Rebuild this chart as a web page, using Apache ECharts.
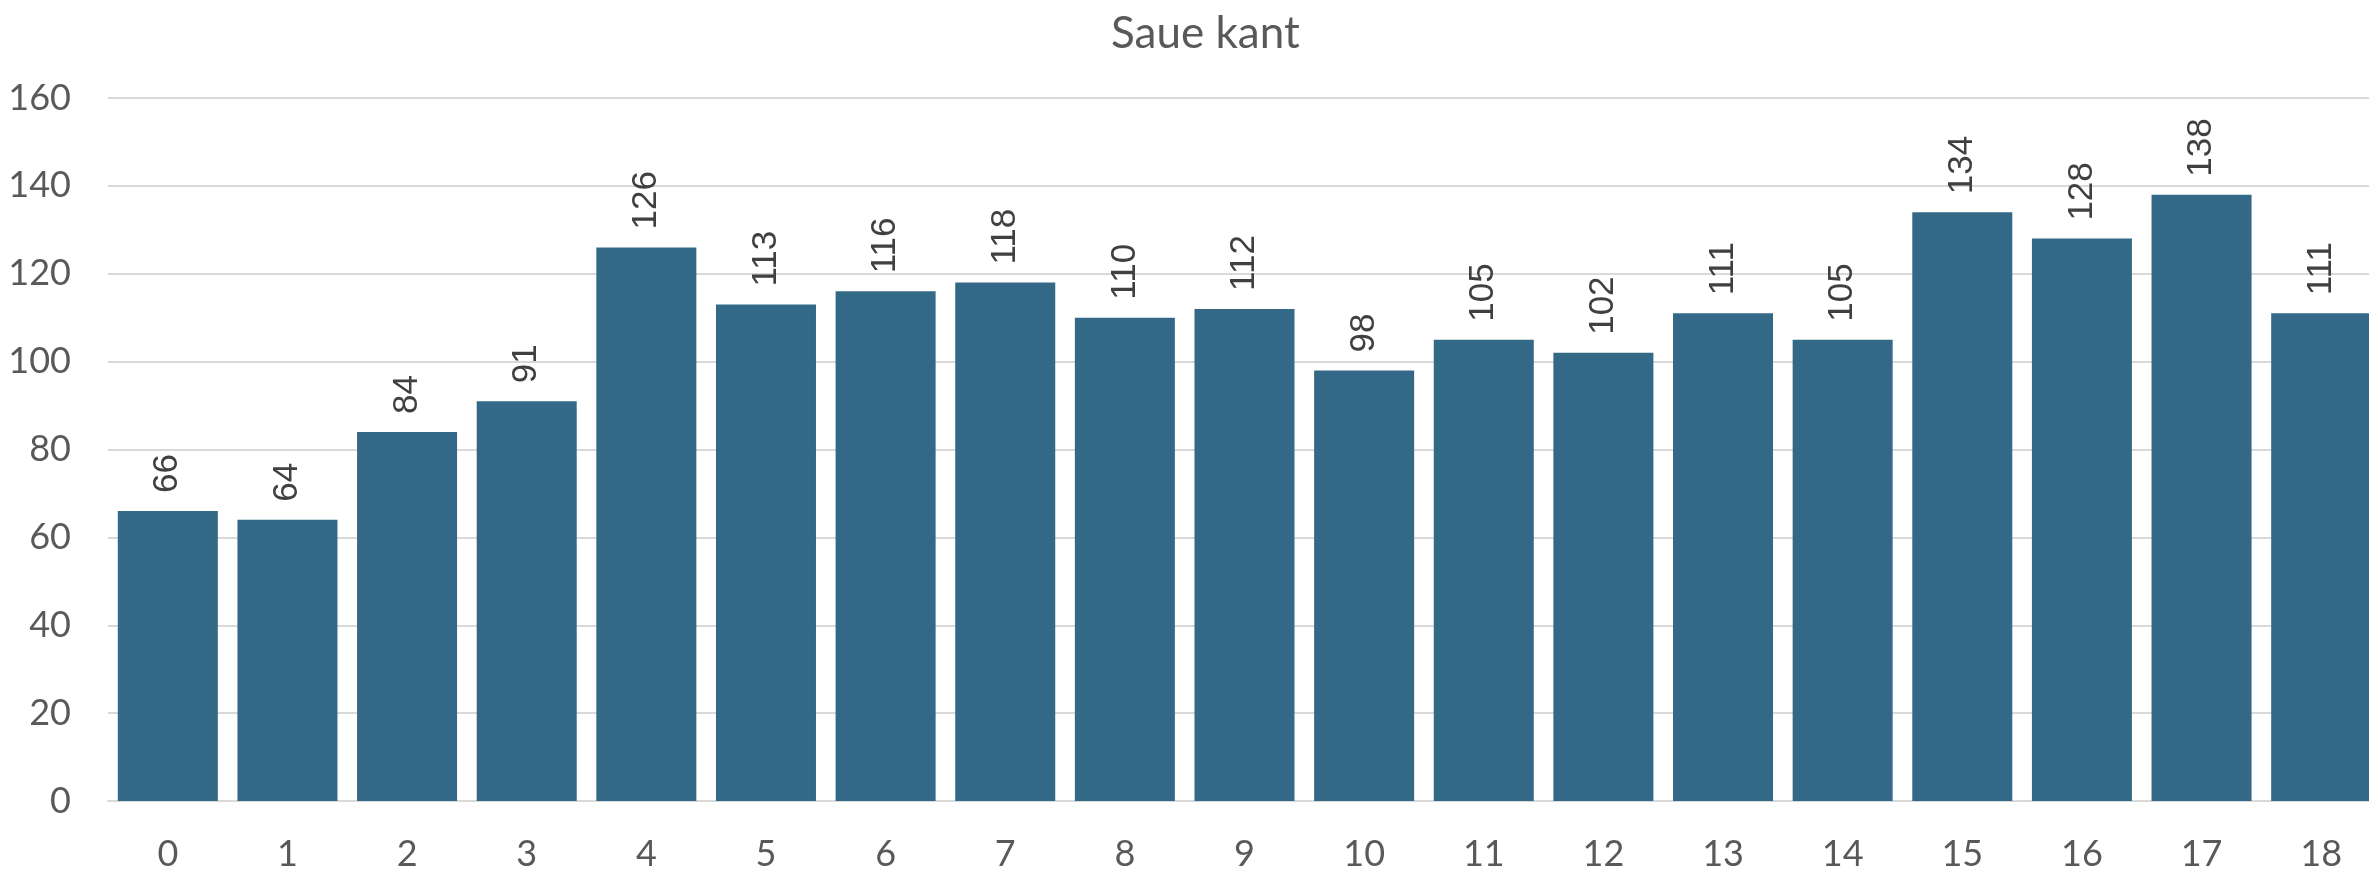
<!DOCTYPE html>
<html>
<head>
<meta charset="utf-8">
<script src="https://cdn.jsdelivr.net/npm/echarts@6/dist/echarts.min.js"></script>
<style>
html,body{margin:0;padding:0;background:#fff;overflow:hidden;width:2369px;height:872px;}
#chart{width:2400px;height:872px;}
</style>
</head>
<body>
<div id="chart"></div>
<script>
const titleText = 'Saue kant';
const categories = ['0','1','2','3','4','5','6','7','8','9','10','11','12','13','14','15','16','17','18'];
const values = [66,64,84,91,126,113,116,118,110,112,98,105,102,111,105,134,128,138,111];
const yTicks = {min:0, max:160, interval:20};

const chart = echarts.init(document.getElementById('chart'), null, {renderer:'canvas'});
chart.setOption({
  animation:false,
  backgroundColor:'#ffffff',
  title:{
    text:titleText,
    left:1106, top:7,
    textStyle:{fontFamily:'Lato', fontSize:44, fontWeight:'normal', color:'#595959'}
  },
  grid:{left:108, top:98, width:2273, bottom:71, containLabel:false},
  xAxis:{
    type:'category',
    data:categories,
    axisLine:{show:true, lineStyle:{color:'#d9d9d9', width:2}},
    axisTick:{show:false},
    axisLabel:{fontFamily:'Lato', fontSize:36, color:'#595959', margin:35}
  },
  yAxis:{
    type:'value',
    min:yTicks.min, max:yTicks.max, interval:yTicks.interval,
    axisLine:{show:false},
    axisTick:{show:false},
    splitLine:{lineStyle:{color:'#d9d9d9', width:2}},
    axisLabel:{fontFamily:'Lato', fontSize:36, color:'#595959', margin:37}
  },
  series:[{
    type:'bar',
    data:values,
    barCategoryGap:'16.4%',
    itemStyle:{color:'#336987'},
    label:{
      show:true,
      position:'top',
      rotate:90,
      align:'left',
      verticalAlign:'middle',
      distance:18,
      fontFamily:'Liberation Sans',
      fontSize:35,
      color:'#404040'
    }
  }]
});
</script>
</body>
</html>
